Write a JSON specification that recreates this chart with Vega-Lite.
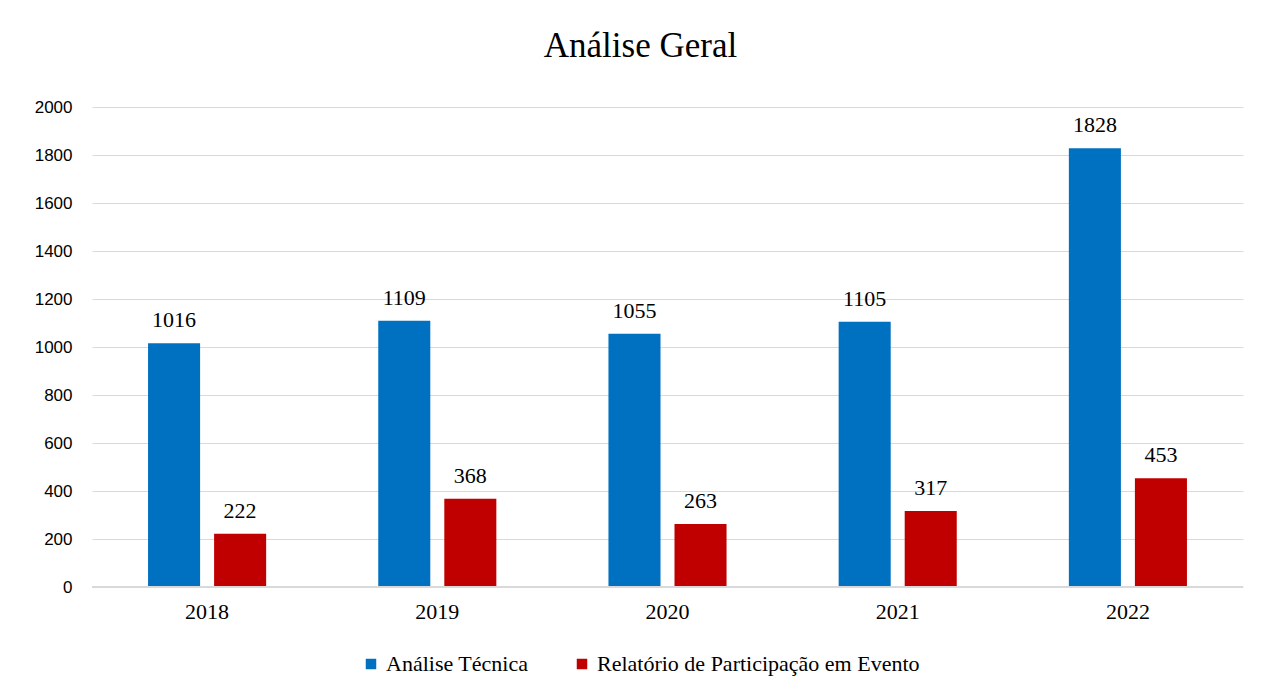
{
  "$schema": "https://vega.github.io/schema/vega-lite/v6.json",
  "autosize": {"type": "none"},
  "width": 1151,
  "height": 480,
  "padding": {"left": 92, "top": 107, "right": 20, "bottom": 110},
  "background": "white",
  "config": {"view": {"stroke": null}, "font": "Liberation Serif", "legend": {"labelFont": "Liberation Serif", "labelFontSize": 22, "labelColor": "#000000"}},
  "title": {"text": "Análise Geral", "font": "Liberation Serif", "fontSize": 35, "fontWeight": "normal", "color": "#000000", "offset": 34, "anchor": "middle", "dx": -27},
  "data": {"values": [
    {"ano": "2018", "serie": "Análise Técnica", "valor": 1016},
    {"ano": "2018", "serie": "Relatório de Participação em Evento", "valor": 222},
    {"ano": "2019", "serie": "Análise Técnica", "valor": 1109},
    {"ano": "2019", "serie": "Relatório de Participação em Evento", "valor": 368},
    {"ano": "2020", "serie": "Análise Técnica", "valor": 1055},
    {"ano": "2020", "serie": "Relatório de Participação em Evento", "valor": 263},
    {"ano": "2021", "serie": "Análise Técnica", "valor": 1105},
    {"ano": "2021", "serie": "Relatório de Participação em Evento", "valor": 317},
    {"ano": "2022", "serie": "Análise Técnica", "valor": 1828},
    {"ano": "2022", "serie": "Relatório de Participação em Evento", "valor": 453}
  ]},
  "encoding": {
    "x": {"field": "ano", "type": "nominal", "title": null,
      "scale": {"paddingInner": 0.487, "paddingOuter": 0.2435},
      "axis": {"labelAngle": 0, "labelFont": "Liberation Serif", "labelFontSize": 22, "labelColor": "#000000", "labelPadding": 14, "ticks": false, "domain": false, "grid": false}},
    "xOffset": {"field": "serie", "type": "nominal", "scale": {"paddingInner": 0.212, "paddingOuter": 0}},
    "y": {"field": "valor", "type": "quantitative", "title": null,
      "scale": {"domain": [0, 2000], "nice": false},
      "axis": {"values": [0, 200, 400, 600, 800, 1000, 1200, 1400, 1600, 1800, 2000], "format": "d", "labelFont": "Liberation Sans", "labelFontSize": 17, "labelColor": "#000000", "labelPadding": 20, "ticks": false, "domain": false, "gridColor": "#d9d9d9", "gridWidth": 1.2}}
  },
  "layer": [
    {
      "mark": {"type": "bar"},
      "encoding": {
        "color": {"field": "serie", "type": "nominal", "title": null,
          "scale": {"domain": ["Análise Técnica", "Relatório de Participação em Evento"], "range": ["#0070C0", "#C00000"]},
          "legend": {"orient": "none", "legendX": 268, "legendY": 546, "direction": "horizontal", "symbolType": "square", "symbolSize": 110, "symbolStrokeWidth": 0, "labelFont": "serif", "labelFontSize": 22, "labelColor": "#000000", "columnPadding": 42, "labelOffset": 4, "labelLimit": 500}}
      }
    },
    {
      "mark": {"type": "rule", "color": "#d9d9d9", "strokeWidth": 1.5},
      "encoding": {"y": {"datum": 0}, "x": null, "xOffset": null}
    },
    {
      "mark": {"type": "text", "baseline": "bottom", "dy": -11, "font": "Liberation Serif", "fontSize": 22, "color": "#000000"},
      "encoding": {"text": {"field": "valor", "type": "quantitative"}}
    }
  ]
}
